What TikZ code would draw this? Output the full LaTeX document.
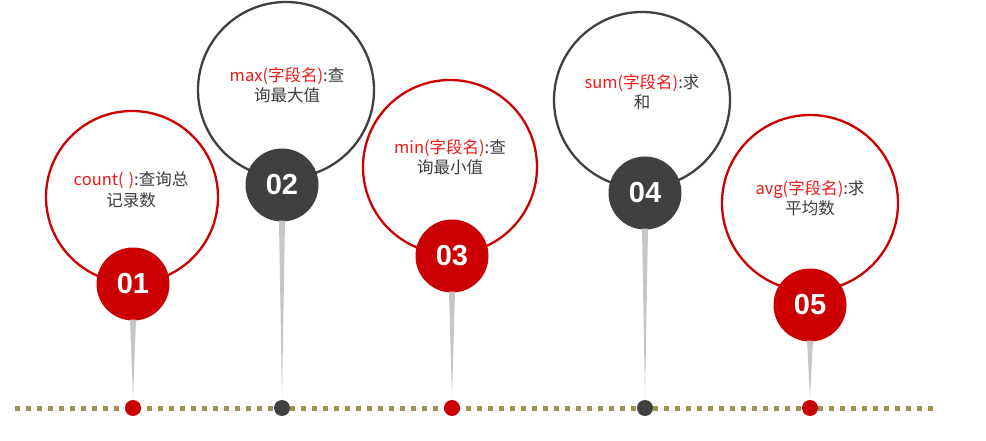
\documentclass[tikz,border=0pt]{standalone}
\usepackage{fontspec}
\usetikzlibrary{calc}
\newfontfamily\cjk{Noto Sans CJK SC}
\newfontfamily\numfont{Liberation Sans}
\definecolor{cred}{HTML}{CC0000}
\definecolor{tred}{HTML}{F01818}
\definecolor{cdark}{HTML}{404040}
\definecolor{ctext}{HTML}{3C3C3C}
\definecolor{colive}{HTML}{9C8F52}
\tikzset{
  outerc/.style 2 args={circle, draw=#1, line width=2.3pt, fill=white, minimum size=#2, inner sep=0pt},
  numc/.style={circle, fill=#1, minimum size=73pt, inner sep=0pt, text=white, font=\numfont\bfseries\fontsize{29}{29}\selectfont},
  dotc/.style={circle, fill=#1, minimum size=16pt, inner sep=0pt},
  txt/.style={align=center, text=ctext, font=\cjk\fontsize{16.5}{20.5}\selectfont},
  pinfill/.style={fill=gray!45, draw=none},
  track/.style={draw=colive, line width=5pt, dash pattern=on 5pt off 6pt}
}
\begin{document}
\begin{tikzpicture}[x=1pt,y=-1pt]
\useasboundingbox (0,0) rectangle (986,441);
\fill[white] (0,0) rectangle (986,441);
% track
\coordinate (ls) at (15,408);
\coordinate (le) at (936,408);
\draw[track] (ls) -- (le);
% outer circles
\node[outerc={cred}{172pt}] (o1) at (132,197) {};
\node[outerc={cdark}{176pt}] (o2) at (286,90) {};
\node[outerc={cred}{174pt}] (o3) at (450,167) {};
\node[outerc={cdark}{176pt}] (o4) at (642,100) {};
\node[outerc={cred}{176pt}] (o5) at (810,203) {};
% texts
\node[txt] (t1) at (131,190) {\textcolor{tred}{count(\hspace{5pt})}:查询总\\记录数};
\node[txt] (t2) at (287,85) {\textcolor{tred}{max(字段名)}:查\\询最大值};
\node[txt] (t3) at (450,157) {\textcolor{tred}{min(字段名)}:查\\询最小值};
\node[txt] (t4) at (642,92) {\textcolor{tred}{sum(字段名)}:求\\和};
\node[txt] (t5) at (810,198) {\textcolor{tred}{avg(字段名)}:求\\平均数};
% dots
\node[dotc=cred] (d1) at (133,408) {};
\node[dotc=cdark] (d2) at (282,408) {};
\node[dotc=cred] (d3) at (452,408) {};
\node[dotc=cdark] (d4) at (645,408) {};
\node[dotc=cred] (d5) at (810,408) {};
% number circles
\node[numc=cred] (n1) at (133,284) {01};
\node[numc=cdark] (n2) at (282,185) {02};
\node[numc=cred] (n3) at (452,256) {03};
\node[numc=cdark] (n4) at (645,193) {04};
\node[numc=cred] (n5) at (810,305) {05};
% pins
\foreach \i in {1,...,5}{
  \fill[pinfill] ($(n\i.south)+(-3,-1)$) -- ($(n\i.south)+(3,-1)$) -- ($(d\i.north)+(0,-2)$) -- cycle;
}
\end{tikzpicture}
\end{document}
